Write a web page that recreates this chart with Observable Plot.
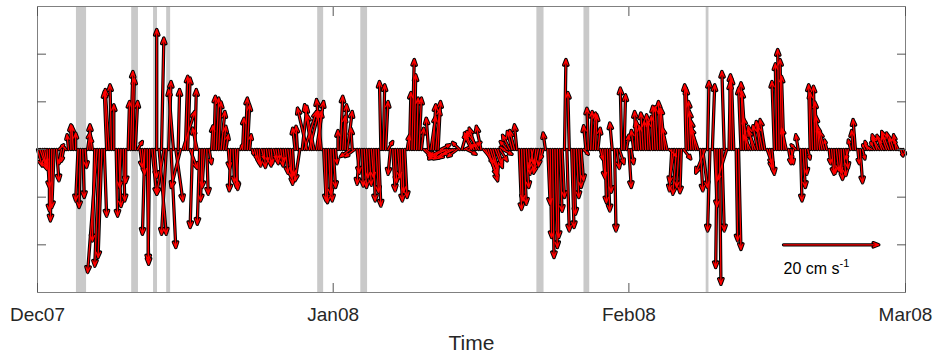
<!DOCTYPE html>
<html><head><meta charset="utf-8">
<script src="https://cdn.jsdelivr.net/npm/d3@7"></script>
<script src="https://cdn.jsdelivr.net/npm/@observablehq/plot@0.6"></script>
<style>body{margin:0;background:#fff} svg{display:block}</style>
</head><body><div id="chart"></div>
<script>
// ---- data ----
const startTime = "2007-12-01T00:00:00Z";
const stepHours = 6;
// north velocity (cm/s), 4 samples per day
const vNorth = [
-3.5,-4.2,-4,-3,  -8,-12.9,-15,-12.2,  -6.6,1,-3,-2.5,  0.5,3.1,5.2,5.0,  3.5,-10.8,-12.2,-10.1,
-3.8,3.5,5.2,2.4,  -19.2,-25.8,-24.5,-22.7,  -14,12.2,12.6,13.6,  9.4,-14,-12,-8,  -10.8,-7,10.1,16.4,
15,10.1,1.7,-3.8,  -5.2,-17.8,-24.1,-23.4,  -9.4,-5.9,25.2,-17.8,  23.4,-9.4,-17.8,14.3,  -20.6,12.6,-10.8,12.6,
-8,8,15.4,15,  -4,-16.4,12.6,4.5,  -15.7,-10.8,-8,-9.4,  -3,5,11.2,10.8,  10,8,4.9,3.1,
-4,-8.7,-7,-8.4,  -8,1,6.6,10.8,  9.4,3.1,-1,-2,  -3,-3.5,-2,-3.8,  -2.5,-3.5,-3,-2,
-3,-2,-3.5,-2.5,  -5,-6,-7.3,-5.5,  4.5,4.9,-6.6,9.1,  8,8.7,8,9.4,  7.3,10.1,8,10.5,
-10.8,-11.2,-9.5,-10.8,  -8,-3,4,11.2,  7,9.4,8,-1.5,  4.5,-1.5,-5,-7.3,  -7.7,-8,-6,-7.5,
-6,-10.8,-9,-11.9,  14.3,13.6,10.1,1.7,  -5.2,-8.7,-7,-6,  -10.8,-9,-10.1,3,  12,18.9,15.7,10.8,
10.8,4.5,-1.5,-1,  6.6,7,9.4,8.5,  10.1,1,-1.5,-2,  -1.5,-2,-1.8,-1,  -1.5,1.5,3.5,1,
-1,1.5,3.1,3.5,  4.5,3.8,4.9,-3,  -5.5,-6.6,-5,-4,  -3.8,-3,-2.4,-1,  0.5,1.7,3,3.8,
4,5.2,-12.6,-10.8,  -11.5,-8,-5.2,-3,  -4,-4.5,-5,-3.5,  -2,3.5,-11.5,-18.5,  -22.7,-20.6,-18.5,-13,
-10.1,18.9,-17.1,12,  -16.4,-13.6,-10.1,-8,  -6.6,-1,5,8.7,  8,7.7,7.3,4.5,  -2,-6,-11.2,-12.9,
-9,5.6,-17.1,-4,  -3,12.9,11.5,3,  -8,-3,4,8,  6,5,7.7,6,  7.3,6,7,9.1,
9,10.1,8.7,8.7,  4.5,-1.5,-8.7,-7,  -9.4,-8,-9.1,-2,  13.6,12.9,10.1,8,  6,4.5,-8.7,-8,
-5,14.3,-17.1,13.6,  -12,-24.8,-28.3,-17.1,  16.4,-6.6,15.7,14,  15,-19.2,-21,12.9,  14,12.2,6.6,3,
4.9,4,5,5.9,  5,6.3,-3,-4,  -5.2,14.3,18,21,  18.9,15.4,4.5,-3,  -3,-2,1,3.1,
-10.8,-8,-5.2,-2,  13.6,12,13.3,10,  7,4.9,3.8,2,  -3,-5.2,-5,-4.5,  -5,-6.3,-5.5,-4,
-2,2,4,6.3,  -3,-7,-2,1,  1.7,1,0.5,1.5,  3.1,2.5,3,2,  3,3.8,3.5,2.5,
3.1,2,-1.4,-1
];
// east velocity (cm/s), 4 samples per day
const uEast = [
1,1.5,1,0.5,  0.5,0,-0.3,-0.5,  0.5,1,-0.5,-0.5,  -0.5,-0.3,0,-0.3,  0,-0.5,-0.3,0.3,
0.3,0.5,0,-0.3,  -0.5,-2,-1,-0.8,  0.5,-0.5,-0.8,-0.3,  0,0.3,0.5,-0.3,  0.3,0,0.3,0.5,
0.3,0.5,1,0.5,  0.5,-0.5,0.3,-0.3,  1,0.5,0,1.5,  0.5,-1.5,-1,0.5,  1,-1,1.5,0.3,
-2,2.5,0.5,0.5,  1.5,-0.5,0.3,-1,  -0.5,-0.3,-0.5,0.3,  0.5,0.3,0.3,0.5,  0.5,0.8,0.5,0.5,
0.3,-0.3,0.3,0.5,  -0.3,0.5,0.3,0.5,  0.5,0.3,0.3,0.5,  0.5,0.3,0.5,0.3,  0.3,0.5,0.3,0.5,
0.5,0.3,0.5,0.3,  0.5,0.8,0.5,0.3,  -0.5,-0.3,-1,1,  2.5,-2,2,-1.5,  -1.5,1.5,0.5,-1,
0.5,0.3,0.5,0.3,  0.5,0.3,0,0.5,  0.5,0.3,1,-2,  -0.3,-2,0.5,-0.5,  0.3,0.5,0.3,0.5,
0.5,0.3,0.5,0.5,  -0.3,0.3,0.5,1,  -0.5,0.5,0.3,0.5,  0.5,0.3,0.5,0.5,  0.3,0.5,0.3,0.3,
0.5,0.5,1.5,1,  -0.5,1,0.5,0.8,  0.5,2,-3,-3.5,  -4,-3.5,-3,-2.5,  -2,-1.5,1,2,
2,2.5,-1.5,-2,  -1.5,-2.5,-1,2.5,  2.5,2,1.5,1,  1.5,1,1.5,2,  -1,-1.5,-1.5,-1,
-1,-0.5,0.5,0.3,  0.5,0.5,0.3,0.5,  -1,-0.5,-1,-0.5,  -0.5,-0.5,0.5,0.3,  0.3,0.5,0.3,0.5,
0.5,0.3,0.5,-0.3,  0.5,0.3,0.5,0.5,  0.5,1,-0.5,-0.3,  0.3,0.5,0.3,0.5,  0.5,0.5,0.3,0.5,
0.3,-0.5,0.3,0.5,  1,-0.3,0.3,0.5,  0.5,0.5,-0.5,-0.3,  -0.5,-0.3,-0.5,-0.3,  -0.3,-0.5,-0.3,-0.5,
-0.5,-0.3,-0.5,-0.8,  -1,1.5,-0.5,-1,  -0.8,-0.5,-0.3,1.5,  -0.3,-0.5,-0.5,-0.8,  -1,-1.5,0.5,1,
-2,0.3,-0.5,0.5,  0.5,-0.3,0.3,0.5,  -0.5,-2,0.3,-0.3,  -0.5,0.3,0.5,-0.5,  -0.5,-0.8,-1,-1.5,
-1,-1.5,-1,-0.8,  -1,-1,1,0.5,  0.5,-0.5,-0.3,-0.3,  -0.3,-0.5,-1,0.5,  0.5,-0.5,-1,-0.5,
0.3,0.5,0.3,0.5,  -0.3,-0.5,-0.3,-0.5,  -0.8,-1,-1,-0.5,  0.3,0.5,0.3,0.5,  0.5,0.3,0.5,0.5,
-0.5,-0.5,-0.3,-0.5,  0.3,0.5,0.5,-0.5,  -0.5,-1,-1,-0.8,  -1,-1.5,-1,-1,  -1,-1.5,-1,-0.8,
-0.5,-1,0.5,0.5
];
// data gaps (grey bands)
const gapStart = ["2007-12-05T02:00Z","2007-12-10T21:00Z","2007-12-13T04:00Z","2007-12-14T13:00Z","2007-12-30T09:00Z","2008-01-03T21:30Z","2008-01-22T08:30Z","2008-01-27T07:00Z","2008-02-09T02:30Z"];
const gapEnd   = ["2007-12-06T03:30Z","2007-12-11T14:00Z","2007-12-13T14:00Z","2007-12-14T23:00Z","2007-12-31T00:00Z","2008-01-04T14:30Z","2008-01-23T02:30Z","2008-01-27T21:30Z","2008-02-09T09:30Z"];
const xTickDates = ["2007-12-01T00:00Z","2008-01-01T00:00Z","2008-02-01T00:00Z","2008-03-01T00:00Z"];
const xTickLabels = ["Dec07","Jan08","Feb08","Mar08"];
const yTicks = [-20,-10,0,10,20];
const yDomain = [-30, 30];
const xLabel = "Time";
const scaleTime = "2008-02-17T05:00Z";
const scaleSpeed = 20;
const scaleLevel = -20;
const scaleText = "20 cm s";
const scaleSup = "-1";
const daysPerCmS = 0.5; // aspect: 1 cm/s on the x axis = half a day

// ---- build ----
const DAY = 864e5;
const t0 = new Date(startTime);
const vectors = vNorth.map((v, i) => {
  const t = new Date(+t0 + i * stepHours * 3600e3);
  return {t, v, tEnd: new Date(+t + uEast[i] * daysPerCmS * DAY)};
});
const gaps = gapStart.map((s, i) => ({start: new Date(s), end: new Date(gapEnd[i])}));
const tickDates = xTickDates.map(d => new Date(d));
const labelFor = d => xTickLabels[tickDates.findIndex(t => +t === +d)];
const sStart = new Date(scaleTime);
const scaleRow = [{t: sStart, tEnd: new Date(+sStart + scaleSpeed * daysPerCmS * DAY), y: scaleLevel, text: scaleText}];

const outline = {stroke: "#000", strokeWidth: 3.3, headLength: 2.8, headAngle: 42};
const inner = {stroke: "#ff0000", strokeWidth: 1.3, headLength: 6.8, headAngle: 42};

const chart = Plot.plot({
  width: 936, height: 356,
  marginLeft: 37, marginRight: 31, marginTop: 6, marginBottom: 64,
  style: {fontFamily: "'Liberation Sans', Arial, sans-serif", fontSize: "19px", color: "#262626", background: "white"},
  x: {type: "utc", domain: [tickDates[0], tickDates[tickDates.length - 1]]},
  y: {domain: yDomain},
  marks: [
    Plot.rect(gaps, {x1: "start", x2: "end", fill: "#c9c9c9"}),
    Plot.arrow(vectors, {x1: "t", y1: 0, x2: "tEnd", y2: "v", ...outline, ariaLabel: "vec-outline"}),
    Plot.arrow(vectors, {x1: "t", y1: 0, x2: "tEnd", y2: "v", ...inner, ariaLabel: "vec-fill"}),
    Plot.arrow(scaleRow, {x1: "t", y1: "y", x2: "tEnd", y2: "y", ...outline}),
    Plot.arrow(scaleRow, {x1: "t", y1: "y", x2: "tEnd", y2: "y", ...inner}),
    Plot.text(scaleRow, {x: "t", y: "y", text: "text", textAnchor: "start", lineAnchor: "bottom", dy: 29, fontSize: 16, fill: "#000"}),
    Plot.frame({stroke: "#808080", strokeWidth: 1}),
    Plot.axisY({anchor: "left", ticks: yTicks, tickSize: 9, dx: 9, tickFormat: () => "", stroke: "#555", label: null}),
    Plot.axisY({anchor: "right", ticks: yTicks, tickSize: 9, dx: -9, tickFormat: () => "", stroke: "#555", label: null}),
    Plot.axisX({anchor: "bottom", ticks: tickDates, tickSize: 9, dy: -9, tickFormat: () => "", stroke: "#555", label: null}),
    Plot.axisX({anchor: "top", ticks: tickDates, tickSize: 9, dy: 9, tickFormat: () => "", stroke: "#555", label: null}),
    Plot.axisX({anchor: "bottom", ticks: tickDates, tickSize: 0, tickPadding: 15, tickFormat: labelFor, fontSize: 19, fill: "#262626", label: null}),
    Plot.text([xLabel], {text: d => d, frameAnchor: "bottom", dy: 57, lineAnchor: "bottom", fontSize: 21, fill: "#262626"})
  ]
});

// interleave outline/fill so each arrow is drawn complete before the next
const gb = chart.querySelector('g[aria-label="vec-outline"]');
const gr = chart.querySelector('g[aria-label="vec-fill"]');
if (gb && gr) {
  const bp = Array.from(gb.children), rp = Array.from(gr.children);
  rp.forEach((p, i) => {
    p.setAttribute("stroke", inner.stroke);
    p.setAttribute("stroke-width", inner.strokeWidth);
    if (bp[i]) bp[i].after(p);
  });
  gr.remove();
}
// superscript for scale label
Array.from(chart.querySelectorAll("text")).forEach(el => {
  if (el.textContent === scaleText) {
    const ts = document.createElementNS("http://www.w3.org/2000/svg", "tspan");
    ts.setAttribute("dy", "-7");
    ts.setAttribute("font-size", "11");
    ts.textContent = scaleSup;
    el.appendChild(ts);
  }
});
document.getElementById("chart").appendChild(chart);
</script>
</body></html>
